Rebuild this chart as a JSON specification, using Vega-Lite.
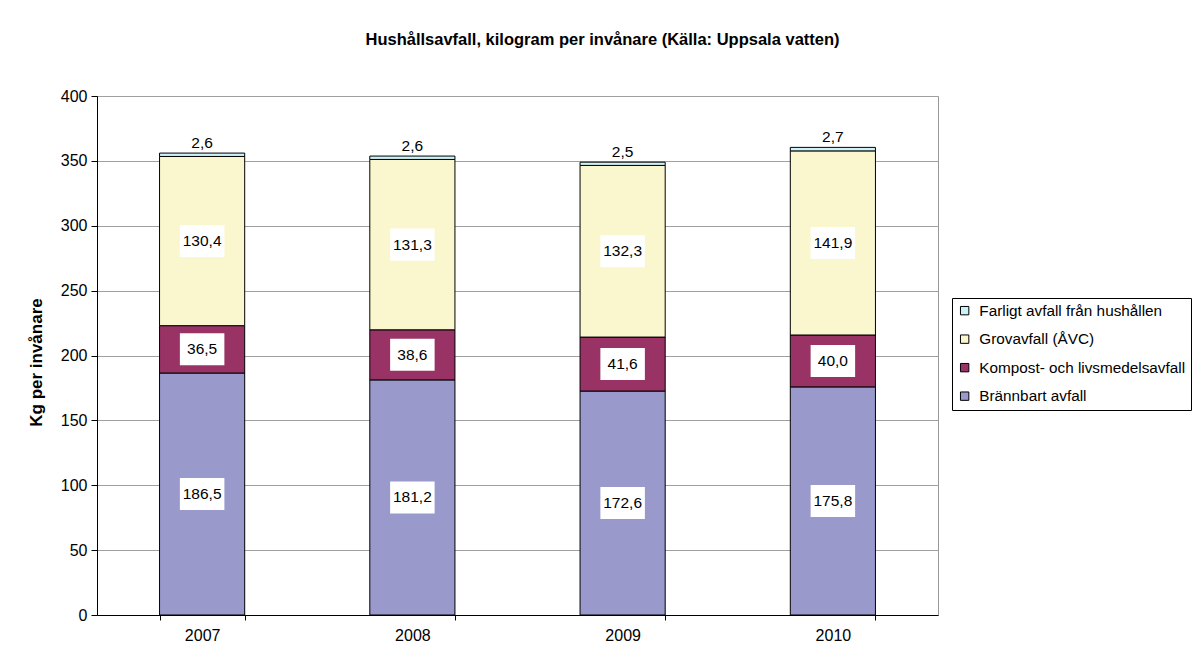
{
  "$schema": "https://vega.github.io/schema/vega-lite/v6.json",
  "autosize": {"type": "none"},
  "width": 841,
  "height": 519,
  "padding": {"left": 97, "top": 96, "right": 254, "bottom": 48},
  "background": "white",
  "config": {
    "font": "Liberation Sans",
    "locale": {"number": {"decimal": ",", "thousands": " ", "grouping": [3], "currency": ["", " kr"]}},
    "view": {"stroke": "#999999", "strokeWidth": 1}
  },
  "title": {
    "text": "Hushållsavfall, kilogram per invånare (Källa: Uppsala vatten)",
    "font": "Liberation Sans",
    "fontSize": 16.5,
    "fontWeight": "bold",
    "color": "black",
    "anchor": "middle",
    "frame": "group",
    "dx": 85,
    "offset": 40
  },
  "data": {
    "values": [
      {"year": "2007", "category": "Brännbart avfall", "order": 1, "value": 186.5},
      {"year": "2007", "category": "Kompost- och livsmedelsavfall", "order": 2, "value": 36.5},
      {"year": "2007", "category": "Grovavfall (ÅVC)", "order": 3, "value": 130.4},
      {"year": "2007", "category": "Farligt avfall från hushållen", "order": 4, "value": 2.6},
      {"year": "2008", "category": "Brännbart avfall", "order": 1, "value": 181.2},
      {"year": "2008", "category": "Kompost- och livsmedelsavfall", "order": 2, "value": 38.6},
      {"year": "2008", "category": "Grovavfall (ÅVC)", "order": 3, "value": 131.3},
      {"year": "2008", "category": "Farligt avfall från hushållen", "order": 4, "value": 2.6},
      {"year": "2009", "category": "Brännbart avfall", "order": 1, "value": 172.6},
      {"year": "2009", "category": "Kompost- och livsmedelsavfall", "order": 2, "value": 41.6},
      {"year": "2009", "category": "Grovavfall (ÅVC)", "order": 3, "value": 132.3},
      {"year": "2009", "category": "Farligt avfall från hushållen", "order": 4, "value": 2.5},
      {"year": "2010", "category": "Brännbart avfall", "order": 1, "value": 175.8},
      {"year": "2010", "category": "Kompost- och livsmedelsavfall", "order": 2, "value": 40.0},
      {"year": "2010", "category": "Grovavfall (ÅVC)", "order": 3, "value": 141.9},
      {"year": "2010", "category": "Farligt avfall från hushållen", "order": 4, "value": 2.7}
    ]
  },
  "transform": [
    {"stack": "value", "groupby": ["year"], "sort": [{"field": "order", "order": "ascending"}], "as": ["y0", "y1"]},
    {"calculate": "(datum.y0 + datum.y1) / 2", "as": "mid"}
  ],
  "encoding": {
    "x": {
      "field": "year",
      "type": "nominal",
      "scale": {"paddingInner": 0.595, "paddingOuter": 0.2975},
      "axis": {
        "title": null,
        "labelAngle": 0,
        "labelFont": "Liberation Sans",
        "labelFontSize": 16,
        "labelColor": "black",
        "labelPadding": 7,
        "domainColor": "black",
        "tickColor": "black",
        "tickBand": "extent",
        "tickSize": 5,
        "grid": false
      }
    }
  },
  "layer": [
    {
      "mark": {"type": "bar", "stroke": "black", "strokeWidth": 1},
      "encoding": {
        "y": {
          "field": "y0",
          "type": "quantitative",
          "scale": {"domain": [0, 400]},
          "axis": {
            "title": "Kg per invånare",
            "titleFont": "Liberation Sans",
            "titleFontSize": 17,
            "titleFontWeight": "bold",
            "titleColor": "black",
            "titlePadding": 15,
            "titleY": 266,
            "values": [0, 50, 100, 150, 200, 250, 300, 350, 400],
            "format": "d",
            "labelFont": "Liberation Sans",
            "labelFontSize": 16,
            "labelColor": "black",
            "labelPadding": 4,
            "domainColor": "black",
            "tickColor": "black",
            "tickSize": 6,
            "gridColor": "#A0A0A0",
            "gridWidth": 1
          }
        },
        "y2": {"field": "y1"},
        "color": {
          "field": "category",
          "type": "nominal",
          "scale": {
            "domain": ["Farligt avfall från hushållen", "Grovavfall (ÅVC)", "Kompost- och livsmedelsavfall", "Brännbart avfall"],
            "range": ["#CCF2F8", "#FAF7CF", "#993366", "#9999CC"]
          },
          "legend": {
            "title": null,
            "orient": "none",
            "legendX": 855,
            "legendY": 202,
            "symbolType": "square",
            "symbolSize": 70,
            "symbolStrokeColor": "black",
            "symbolStrokeWidth": 1,
            "labelFont": "Liberation Sans",
            "labelFontSize": 15.3,
            "labelColor": "black",
            "labelLimit": 400,
            "rowPadding": 12.5,
            "padding": 5,
            "strokeColor": "black",
            "fillColor": "white",
            "labelOffset": 7
          }
        }
      }
    },
    {
      "transform": [{"filter": "datum.order < 4"}],
      "mark": {"type": "point", "shape": "M-1,-0.72H1V0.72H-1Z", "filled": true, "fill": "white", "stroke": null, "size": 1980, "opacity": 1},
      "encoding": {
        "y": {"field": "mid", "type": "quantitative"}
      }
    },
    {
      "transform": [{"filter": "datum.order < 4"}],
      "mark": {"type": "text", "font": "Liberation Sans", "fontSize": 15.5, "color": "black", "baseline": "middle"},
      "encoding": {
        "y": {"field": "mid", "type": "quantitative"},
        "text": {"field": "value", "type": "quantitative", "format": ".1f"}
      }
    },
    {
      "transform": [{"filter": "datum.order == 4"}],
      "mark": {"type": "text", "font": "Liberation Sans", "fontSize": 15.5, "color": "black", "baseline": "middle", "dy": -10},
      "encoding": {
        "y": {"field": "y1", "type": "quantitative"},
        "text": {"field": "value", "type": "quantitative", "format": ".1f"}
      }
    }
  ]
}
